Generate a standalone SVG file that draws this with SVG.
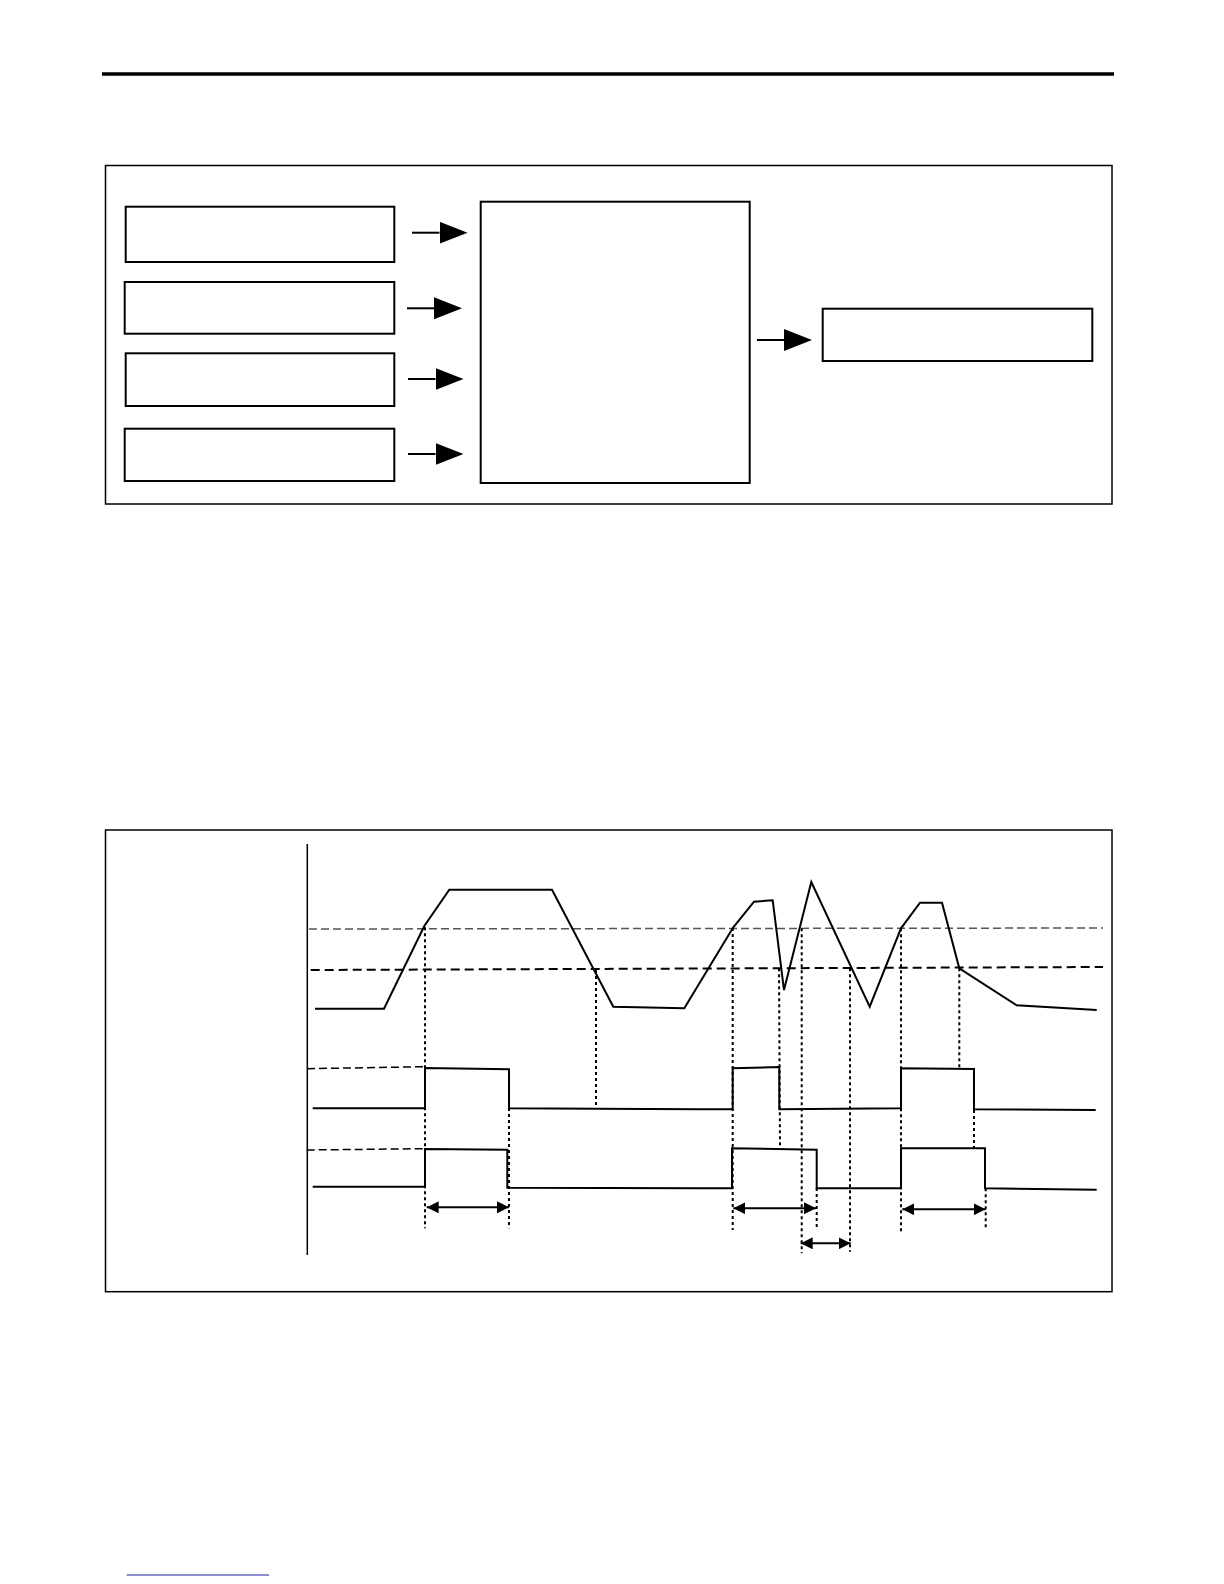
<svg xmlns="http://www.w3.org/2000/svg" width="1224" height="1584" viewBox="0 0 1224 1584">
<defs>
<marker id="bigArrow" viewBox="0 0 28 22" refX="0" refY="11" markerWidth="28" markerHeight="22" markerUnits="userSpaceOnUse" orient="auto">
<path d="M0,0 L28,11 L0,22 Z" fill="#000"/>
</marker>
<marker id="dimArrow" viewBox="0 0 12 12" refX="12" refY="6" markerWidth="12" markerHeight="12" markerUnits="userSpaceOnUse" orient="auto-start-reverse">
<path d="M0,0 L12,6 L0,12 Z" fill="#000"/>
</marker>
</defs>
<style>
.frame{fill:none;stroke:#000;stroke-width:1.5}
.box{fill:#fff;stroke:#000;stroke-width:2}
.conn{fill:none;stroke:#000;stroke-width:2}
.sig{fill:none;stroke:#000;stroke-width:2;stroke-linejoin:miter}
.thrHi{fill:none;stroke:#555;stroke-width:1.5;stroke-dasharray:8 4}
.thrLo{fill:none;stroke:#000;stroke-width:2;stroke-dasharray:9 5}
.pre{fill:none;stroke:#000;stroke-width:1.5;stroke-dasharray:8 4}
.dot{fill:none;stroke:#000;stroke-width:2;stroke-dasharray:3 3}
.dim{fill:none;stroke:#000;stroke-width:2}
</style>
<rect width="1224" height="1584" fill="#fff"/>
<line x1="102" y1="74" x2="1114" y2="74" stroke="#000" stroke-width="3.5"/>

<rect class="frame" x="105.5" y="165.5" width="1006.5" height="338.5"/>
<g id="in1"><rect class="box" x="125.7" y="206.7" width="268.6" height="55.3"/></g>
<g id="in2"><rect class="box" x="124.7" y="282" width="269.6" height="51.7"/></g>
<g id="in3"><rect class="box" x="125.7" y="353.3" width="268.6" height="52.7"/></g>
<g id="in4"><rect class="box" x="124.7" y="428.7" width="269.6" height="52.3"/></g>
<g id="core"><rect class="box" x="480.7" y="201.7" width="269" height="281.3"/></g>
<g id="out"><rect class="box" x="822.7" y="308.7" width="269.6" height="52.3"/></g>
<g id="connectors">
<line class="conn" x1="412" y1="232.7" x2="439.5" y2="232.7" marker-end="url(#bigArrow)"/>
<line class="conn" x1="407" y1="308.3" x2="434" y2="308.3" marker-end="url(#bigArrow)"/>
<line class="conn" x1="408" y1="379" x2="435.5" y2="379" marker-end="url(#bigArrow)"/>
<line class="conn" x1="408" y1="454" x2="435.5" y2="454" marker-end="url(#bigArrow)"/>
<line class="conn" x1="757" y1="340" x2="784" y2="340" marker-end="url(#bigArrow)"/>
</g>

<rect class="frame" x="105.5" y="830" width="1006.5" height="461.7"/>
<line x1="307.3" y1="844" x2="307.3" y2="1255" stroke="#000" stroke-width="1.5"/>

<g id="thresholds">
<line class="thrHi" x1="309" y1="929" x2="1103" y2="928"/>
<line class="thrLo" x1="310.7" y1="970" x2="1103" y2="967"/>
</g>

<g id="analog">
<polyline class="sig" points="315,1008.7 384,1008.7 424.3,926 449.3,889.7 552,889.7 613.3,1006.7 684.3,1008.3 733.3,927.3 754,901.7 772.7,900.3 784,990 811.3,882 869.7,1006.7 901,928.3 920,902.7 942,902.7 959.3,968.3 1016.7,1005.3 1096.7,1010"/>
</g>

<g id="digital1">
<line class="pre" x1="307" y1="1068.7" x2="425" y2="1066.7"/>
<polyline class="sig" points="312.7,1108.3 425,1108.3 425,1068 509,1069.3 509,1108.3 596,1108.8 700,1109.3 732.7,1109.3 732.7,1068.3 779.3,1067 779.3,1109.3 901,1108.3 901,1068.3 974,1069 974,1109.3 1095.7,1110"/>
</g>

<g id="digital2">
<line class="pre" x1="306.7" y1="1150" x2="425" y2="1148.7"/>
<polyline class="sig" points="312.7,1186.7 425,1186.7 425,1149 507.3,1149.7 507.3,1187.7 700,1188.3 732,1188.3 732,1148.3 816.7,1149.7 816.7,1188.3 901,1188.3 901,1148.3 985,1148.3 985,1188.3 1096.7,1189.7"/>
</g>

<g id="guides">
<line class="dot" x1="425" y1="927.3" x2="425" y2="1228.3"/>
<line class="dot" x1="509" y1="1108" x2="509" y2="1228.3"/>
<line class="dot" x1="596" y1="970" x2="596" y2="1108.3"/>
<line class="dot" x1="732.7" y1="928" x2="732.7" y2="1230"/>
<line class="dot" x1="779" y1="968.3" x2="780" y2="1148.3"/>
<line class="dot" x1="801.7" y1="928.3" x2="801.7" y2="1253.3"/>
<line class="dot" x1="816.7" y1="1188" x2="816.7" y2="1228.3"/>
<line class="dot" x1="850" y1="968.3" x2="850" y2="1251.7"/>
<line class="dot" x1="901" y1="928.3" x2="901" y2="1231.7"/>
<line class="dot" x1="959.3" y1="968.3" x2="959.3" y2="1068.3"/>
<line class="dot" x1="974" y1="1110" x2="974" y2="1148.3"/>
<line class="dot" x1="985.7" y1="1188.3" x2="985.7" y2="1230"/>
</g>

<g id="dimensions">
<line class="dim" x1="426.7" y1="1207.3" x2="509" y2="1207.3" marker-start="url(#dimArrow)" marker-end="url(#dimArrow)"/>
<line class="dim" x1="733.3" y1="1208.3" x2="816" y2="1208.3" marker-start="url(#dimArrow)" marker-end="url(#dimArrow)"/>
<line class="dim" x1="800.7" y1="1243.3" x2="850.7" y2="1243.3" marker-start="url(#dimArrow)" marker-end="url(#dimArrow)"/>
<line class="dim" x1="902.3" y1="1209.3" x2="985.7" y2="1209.3" marker-start="url(#dimArrow)" marker-end="url(#dimArrow)"/>
</g>

<line x1="126.7" y1="1575" x2="269" y2="1575" stroke="#1a1aa0" stroke-width="1.2"/>
</svg>
